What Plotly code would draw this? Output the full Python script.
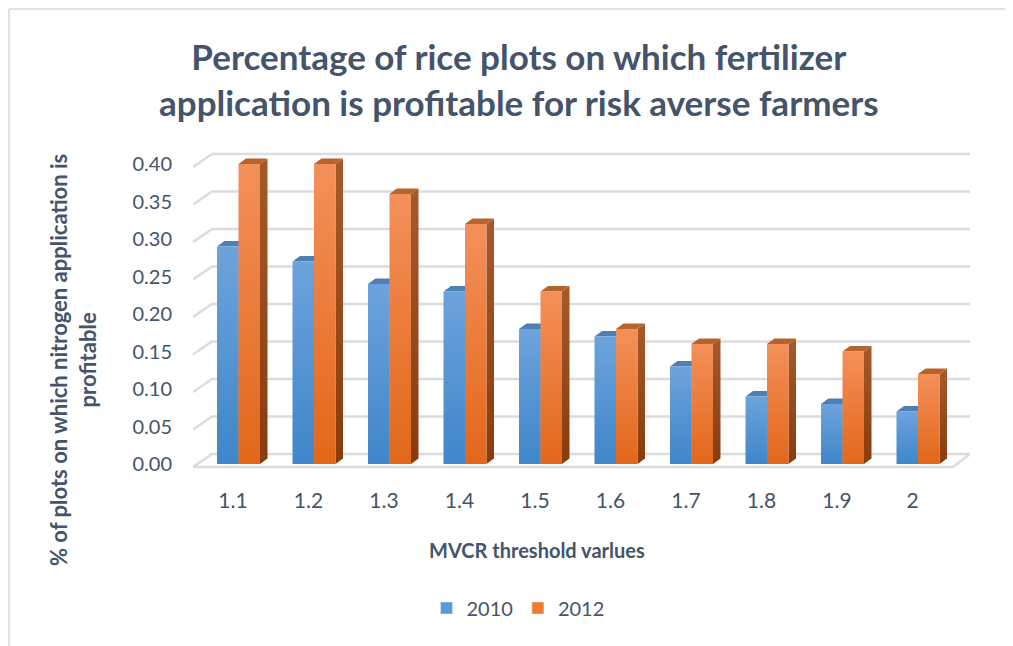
import plotly.graph_objects as go

categories = ["1.1", "1.2", "1.3", "1.4", "1.5", "1.6", "1.7", "1.8", "1.9", "2"]
values_2010 = [0.29, 0.27, 0.24, 0.23, 0.18, 0.17, 0.13, 0.09, 0.08, 0.07]
values_2012 = [0.40, 0.40, 0.36, 0.32, 0.23, 0.18, 0.16, 0.16, 0.15, 0.12]
y_ticks = [0.00, 0.05, 0.10, 0.15, 0.20, 0.25, 0.30, 0.35, 0.40]
series_names = ["2010", "2012"]

TXT = "#44546A"
GRID = "#D9DCE1"
FONT = "Lato, 'Open Sans', sans-serif"

W, H = 1013, 646
PAGE_OFF = 8  # browser body margin

# plot area in page pixels
PL, PR, PT, PB = 193, 970, 140, 472
PW, PH = PR - PL, PB - PT

# pixel geometry -> data units
PX_X = 75.5   # px per category
PX_Y = 750.0  # px per value unit
X0_PX = 233   # page x of first category
Y0_PX = 464   # page y of value 0
XMIN = (PL - X0_PX) / PX_X
XMAX = (PR - X0_PX) / PX_X
YMIN = (Y0_PX - PB) / PX_Y
YMAX = (Y0_PX - PT) / PX_Y


def fx(px):
    return (px - PL) / PW


def fy(py):
    return (PB - py) / PH


BAR_W = 21.5 / PX_X
OFFS = [(217 - X0_PX) / PX_X, (238.5 - X0_PX) / PX_X]
DX = 7.5 / PX_X
DY = 5.5 / PX_Y

styles = [
    dict(front=("#3F86CA", "#6DA3DC"), side=("#2C5A8A", "#3A6FA5"), top="#4E7FB2", legend="#5B9BD5"),
    dict(front=("#E2671A", "#F4905A"), side=("#883C0D", "#A65A2B"), top="#B9632C", legend="#ED7D31"),
]

fig = go.Figure()

# walls / gridlines (pseudo 3D)
wx0 = XMIN
wx1 = (212 - X0_PX) / PX_X
for v in y_ticks:
    fig.add_trace(go.Scatter(
        x=[wx0, wx1, XMAX], y=[v - 3 / PX_Y, v + 10 / PX_Y, v + 10 / PX_Y],
        mode="lines", line=dict(color=GRID, width=2.4), hoverinfo="skip", showlegend=False))
# floor front edge and right edge
fx1 = (953 - X0_PX) / PX_X
fig.add_trace(go.Scatter(
    x=[wx0, fx1, XMAX], y=[-3 / PX_Y, -3 / PX_Y, 10 / PX_Y],
    mode="lines", line=dict(color=GRID, width=2.4), hoverinfo="skip", showlegend=False))

all_values = [values_2010, values_2012]
for s, vals in enumerate(all_values):
    st = styles[s]
    # side faces
    for i, v in enumerate(vals):
        x1 = i + OFFS[s] + BAR_W
        fig.add_trace(go.Scatter(
            x=[x1, x1 + DX, x1 + DX, x1, x1], y=[0, DY, v + DY, v, 0],
            mode="none", fill="toself",
            fillgradient=dict(type="vertical", colorscale=[[0, st["side"][0]], [1, st["side"][1]]]),
            hoverinfo="skip", showlegend=False))
    # top faces
    tx, ty = [], []
    for i, v in enumerate(vals):
        x0 = i + OFFS[s]
        x1 = x0 + BAR_W
        tx += [x0, x1, x1 + DX, x0 + DX, x0, None]
        ty += [v, v, v + DY, v + DY, v, None]
    fig.add_trace(go.Scatter(x=tx, y=ty, mode="none", fill="toself", fillcolor=st["top"],
                             hoverinfo="skip", showlegend=False))
    # front faces
    for i, v in enumerate(vals):
        x0 = i + OFFS[s]
        x1 = x0 + BAR_W
        fig.add_trace(go.Scatter(
            x=[x0, x1, x1, x0, x0], y=[0, 0, v, v, 0],
            mode="none", fill="toself",
            fillgradient=dict(type="vertical", colorscale=[[0, st["front"][0]], [1, st["front"][1]]]),
            name=series_names[s], hovertemplate=f"{series_names[s]} {categories[i]}: {v:.2f}<extra></extra>",
            showlegend=False))
    # legend entry
    fig.add_trace(go.Bar(x=[None], y=[None], name=series_names[s], marker_color=st["legend"]))

fig.update_layout(
    width=W, height=H,
    margin=dict(l=PL - PAGE_OFF, r=W - (PR - PAGE_OFF), t=PT - PAGE_OFF, b=H - (PB - PAGE_OFF)),
    paper_bgcolor="white", plot_bgcolor="rgba(0,0,0,0)",
    font=dict(family=FONT, color=TXT),
    xaxis=dict(range=[XMIN, XMAX], tickmode="array", tickvals=list(range(len(categories))),
               ticktext=categories, showgrid=False, zeroline=False, showline=False,
               ticklabelstandoff=14, tickfont=dict(size=21, color=TXT)),
    yaxis=dict(range=[YMIN, YMAX], tickmode="array", tickvals=y_ticks,
               ticktext=[f"{v:.2f}" for v in y_ticks], showgrid=False, zeroline=False, showline=False,
               ticklabelstandoff=20, tickfont=dict(size=20, color=TXT)),
    legend=dict(orientation="h", xref="container", yref="container",
                x=(518 - PAGE_OFF) / W, xanchor="center",
                y=1 - (608 - PAGE_OFF) / H, yanchor="middle",
                font=dict(size=20, color=TXT), itemwidth=30),
    showlegend=True,
    annotations=[
        dict(text="Percentage of rice plots on which fertilizer<br>application is profitable for risk averse farmers",
             xref="paper", yref="paper", x=fx(519), y=fy(79), xanchor="center", yanchor="middle",
             showarrow=False, font=dict(size=35, color=TXT, family=FONT, weight="bold")),
        dict(text="% of plots on which nitrogen application is<br>profitable", textangle=-90,
             xref="paper", yref="paper", x=fx(73), y=fy(360),
             xanchor="center", yanchor="middle", showarrow=False,
             font=dict(size=22, color=TXT, family=FONT, weight="bold")),
        dict(text="MVCR threshold varlues", xref="paper", yref="paper",
             x=fx(537), y=fy(550), xanchor="center", yanchor="middle",
             showarrow=False, font=dict(size=20, color=TXT, family=FONT, weight="bold")),
    ],
    shapes=[
        dict(type="line", xref="paper", yref="paper", x0=fx(PAGE_OFF + 1), x1=fx(PAGE_OFF + 1),
             y0=fy(PAGE_OFF + 1), y1=fy(H + 20), line=dict(color="#D9D9D9", width=1.5)),
        dict(type="line", xref="paper", yref="paper", x0=fx(PAGE_OFF + 1), x1=fx(W + 20),
             y0=fy(PAGE_OFF + 1), y1=fy(PAGE_OFF + 1), line=dict(color="#D9D9D9", width=1.5)),
    ],
)

fig.write_html("out.html")
